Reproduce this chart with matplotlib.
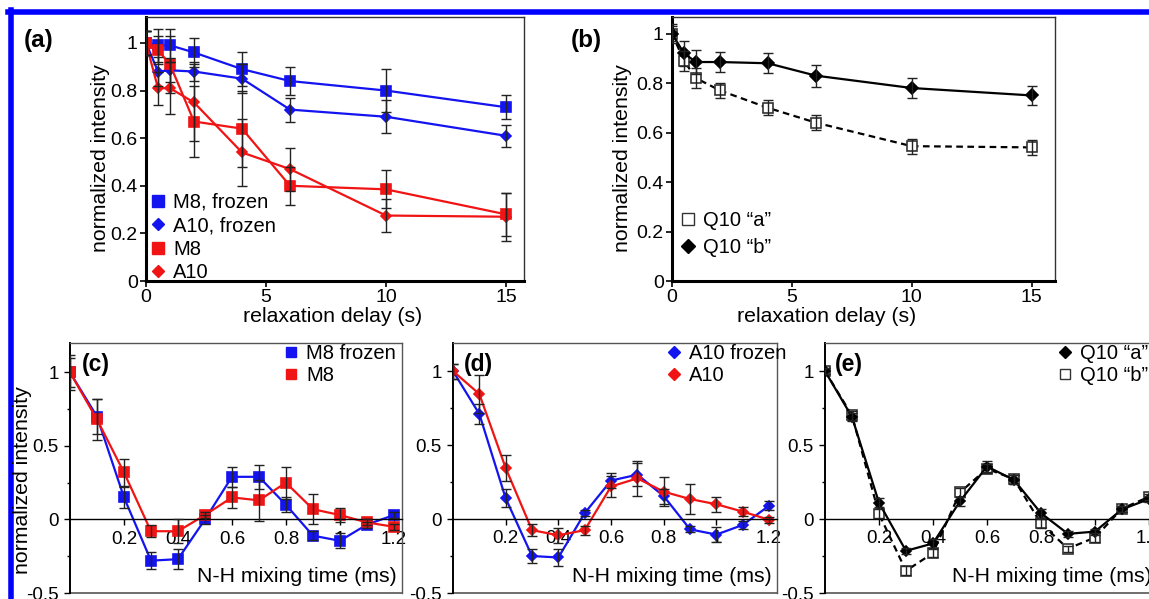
import matplotlib
matplotlib.use("Agg")
import matplotlib.pyplot as plt
from matplotlib.lines import Line2D

plt.rcParams["font.family"] = ["Liberation Sans", "DejaVu Sans"]
plt.rcParams["axes.unicode_minus"] = False

BLUE = "#1414f0"
RED = "#f01414"

# relaxation delays (s), panels (a) and (b)
delay = [0, 0.5, 1, 2, 4, 6, 10, 15]
m8_frozen = [1.00, 0.99, 0.99, 0.96, 0.89, 0.84, 0.80, 0.73]
m8_frozen_err = [0.05, 0.07, 0.07, 0.06, 0.07, 0.06, 0.09, 0.05]
a10_frozen = [1.00, 0.88, 0.885, 0.88, 0.85, 0.72, 0.69, 0.61]
a10_frozen_err = [0.05, 0.06, 0.05, 0.04, 0.06, 0.05, 0.07, 0.045]
m8 = [1.00, 0.97, 0.91, 0.67, 0.64, 0.40, 0.385, 0.28]
m8_err = [0.05, 0.06, 0.12, 0.15, 0.16, 0.08, 0.08, 0.09]
a10 = [1.00, 0.81, 0.81, 0.75, 0.54, 0.47, 0.275, 0.27]
a10_err = [0.05, 0.07, 0.11, 0.16, 0.14, 0.09, 0.07, 0.10]

q10a = [1.00, 0.89, 0.82, 0.77, 0.70, 0.64, 0.545, 0.54]
q10a_err = [0.03, 0.04, 0.04, 0.03, 0.03, 0.03, 0.03, 0.03]
q10b = [1.00, 0.92, 0.885, 0.885, 0.88, 0.83, 0.78, 0.75]
q10b_err = [0.04, 0.05, 0.05, 0.04, 0.04, 0.045, 0.04, 0.04]

# N-H mixing times (ms), panels (c)-(e)
mix = [0, 0.1, 0.2, 0.3, 0.4, 0.5, 0.6, 0.7, 0.8, 0.9, 1.0, 1.1, 1.2]
c_m8_frozen = [1.00, 0.70, 0.15, -0.28, -0.27, 0.00, 0.29, 0.29, 0.10, -0.11, -0.145, -0.035, 0.03]
c_m8_frozen_err = [0.10, 0.12, 0.07, 0.06, 0.07, 0.03, 0.07, 0.08, 0.05, 0.03, 0.05, 0.02, 0.02]
c_m8 = [1.00, 0.68, 0.32, -0.08, -0.08, 0.03, 0.15, 0.13, 0.25, 0.07, 0.03, -0.02, -0.05]
c_m8_err = [0.12, 0.14, 0.09, 0.04, 0.08, 0.02, 0.07, 0.14, 0.11, 0.10, 0.05, 0.02, 0.02]

d_a10_frozen = [1.00, 0.71, 0.14, -0.25, -0.26, 0.04, 0.26, 0.30, 0.155, -0.07, -0.105, -0.04, 0.09]
d_a10_frozen_err = [0.05, 0.07, 0.06, 0.05, 0.06, 0.02, 0.05, 0.08, 0.05, 0.02, 0.05, 0.03, 0.03]
d_a10 = [1.00, 0.845, 0.345, -0.075, -0.11, -0.075, 0.22, 0.275, 0.185, 0.135, 0.10, 0.05, -0.005]
d_a10_err = [0.05, 0.13, 0.09, 0.04, 0.05, 0.03, 0.07, 0.12, 0.10, 0.10, 0.05, 0.03, 0.02]

e_q10a = [1.00, 0.69, 0.11, -0.215, -0.165, 0.12, 0.355, 0.265, 0.04, -0.10, -0.085, 0.065, 0.135]
e_q10a_err = [0.02, 0.03, 0.03, 0.02, 0.03, 0.03, 0.04, 0.03, 0.03, 0.02, 0.02, 0.02, 0.02]
e_q10b = [1.00, 0.70, 0.035, -0.35, -0.23, 0.18, 0.34, 0.27, -0.03, -0.20, -0.125, 0.07, 0.15]
e_q10b_err = [0.02, 0.03, 0.03, 0.03, 0.03, 0.03, 0.03, 0.03, 0.03, 0.02, 0.03, 0.02, 0.02]

W, H = 1149, 599
fig = plt.figure(figsize=(W / 100, H / 100), dpi=100)


def px_axes(l, t, r, b):
    return fig.add_axes([l / W, 1 - b / H, (r - l) / W, (b - t) / H])


def series(ax, x, y, err, color, marker, ms, ls="-", mfc=None, mec=None):
    ax.plot(x, y, ls=ls, color=color, lw=1.6, marker=marker, ms=ms,
            mfc=mfc or color, mec=mec or color, mew=1.2, zorder=2)
    ax.errorbar(x, y, yerr=err, fmt="none", ecolor="#222222", elinewidth=1,
                capsize=3.5, capthick=1, zorder=3)


def top_style(ax):
    for s in ("left", "bottom"):
        ax.spines[s].set_linewidth(2.2)
        ax.spines[s].set_color("black")
    for s in ("top", "right"):
        ax.spines[s].set_linewidth(1)
        ax.spines[s].set_color("#333333")
    ax.tick_params(direction="out", length=4, width=1.2, labelsize=14, pad=2)


def bottom_style(ax, ylim):
    ax.set_ylim(*ylim)
    ax.set_xlim(0, 1.23)
    ax.set_axisbelow(True)
    ax.spines["bottom"].set_position(("data", 0))
    ax.spines["bottom"].set_linewidth(1)
    ax.spines["left"].set_linewidth(1.4)
    for s in ("top", "right"):
        ax.spines[s].set_color("#555555")
        ax.spines[s].set_linewidth(1)
    ax.plot([0, 1], [0, 0], transform=ax.transAxes, color="#555555", lw=1.2,
            clip_on=False)
    ax.set_xticks([0.2, 0.4, 0.6, 0.8, 1.0, 1.2])
    ax.set_xticklabels(["0.2", "0.4", "0.6", "0.8", "1", "1.2"])
    ax.set_yticks([-0.5, 0, 0.5, 1])
    ax.set_yticklabels(["-0.5", "0", "0.5", "1"])
    ax.set_yticks([-0.25, 0.25, 0.75], minor=True)
    ax.tick_params(direction="out", length=4, width=1, labelsize=13.5, pad=4)
    ax.tick_params(axis="y", which="minor", length=2.5, width=1)
    ax.text(0.985, 0.065, "N-H mixing time (ms)", transform=ax.transAxes,
            ha="right", va="center", fontsize=15.3)


def legend(ax, handles, x, y, fs=14.5, spacing=0.25):
    ax.legend(handles=handles, loc="upper left", bbox_to_anchor=(x / W, 1 - y / H),
              bbox_transform=fig.transFigure, frameon=False, fontsize=fs,
              handlelength=0.8, handletextpad=0.35, labelspacing=spacing,
              borderpad=0, borderaxespad=0)


def h(marker, color, ms, mfc=None):
    return dict(marker=marker, color=color, ls="none", ms=ms,
                mfc=mfc or color, mec=color if mfc is None else "#333333")


# (a)
ax = px_axes(146, 17, 524, 281)
series(ax, delay, m8_frozen, m8_frozen_err, BLUE, "s", 7.5)
series(ax, delay, a10_frozen, a10_frozen_err, BLUE, "D", 5.5)
series(ax, delay, m8, m8_err, RED, "s", 7.5)
series(ax, delay, a10, a10_err, RED, "D", 5.5)
ax.set_xlim(0, 15.75)
ax.set_ylim(0, 1.109)
ax.set_xticks([0, 5, 10, 15])
ax.set_yticks([0, 0.2, 0.4, 0.6, 0.8, 1])
ax.set_yticklabels(["0", "0.2", "0.4", "0.6", "0.8", "1"])
top_style(ax)
legend(ax, [Line2D([], [], label="M8, frozen", **h("s", BLUE, 9)),
            Line2D([], [], label="A10, frozen", **h("D", BLUE, 6)),
            Line2D([], [], label="M8", **h("s", RED, 9)),
            Line2D([], [], label="A10", **h("D", RED, 6))], 150, 193, spacing=0.22)
fig.text(333 / W, 1 - 317 / H, "relaxation delay (s)", ha="center", va="center",
         fontsize=15.3)
fig.text(100 / W, 1 - 158 / H, "normalized intensity", rotation=90, ha="center",
         va="center", fontsize=15.3)
fig.text(24 / W, 1 - 41 / H, "(a)", fontsize=17.5, fontweight="bold", va="center")

# (b)
ax = px_axes(672, 17, 1055, 281)
series(ax, delay, q10a, q10a_err, "black", "s", 7, ls=(0, (3, 2)), mfc="white",
       mec="#333333")
series(ax, delay, q10b, q10b_err, "black", "D", 6.5)
ax.set_xlim(0, 15.98)
ax.set_ylim(0, 1.067)
ax.set_xticks([0, 5, 10, 15])
ax.set_yticks([0, 0.2, 0.4, 0.6, 0.8, 1])
ax.set_yticklabels(["0", "0.2", "0.4", "0.6", "0.8", "1"])
top_style(ax)
legend(ax, [Line2D([], [], label="Q10 \u201ca\u201d", **h("s", "#333333", 9, mfc="white")),
            Line2D([], [], label="Q10 \u201cb\u201d", **h("D", "black", 7))], 680, 211,
       spacing=0.4)
fig.text(827 / W, 1 - 317 / H, "relaxation delay (s)", ha="center", va="center",
         fontsize=15.3)
fig.text(622 / W, 1 - 158 / H, "normalized intensity", rotation=90, ha="center",
         va="center", fontsize=15.3)
fig.text(571 / W, 1 - 41 / H, "(b)", fontsize=17.5, fontweight="bold", va="center")

# (c)
ax = px_axes(70, 343, 402, 593)
series(ax, mix, c_m8_frozen, c_m8_frozen_err, BLUE, "s", 7)
series(ax, mix, c_m8, c_m8_err, RED, "s", 7)
bottom_style(ax, (-0.5, 1.2))
legend(ax, [Line2D([], [], label="M8 frozen", **h("s", BLUE, 7.5)),
            Line2D([], [], label="M8", **h("s", RED, 7.5))], 283, 344, spacing=0.15)
ax.text(0.035, 0.96, "(c)", transform=ax.transAxes, fontsize=16.5,
        fontweight="bold", va="top")
fig.text(23 / W, 1 - 480 / H, "normalized intensity", rotation=90, ha="center",
         va="center", fontsize=15.3)

# (d)
ax = px_axes(453, 343, 777, 593)
series(ax, mix, d_a10_frozen, d_a10_frozen_err, BLUE, "D", 5.5)
series(ax, mix, d_a10, d_a10_err, RED, "D", 5.5)
bottom_style(ax, (-0.5, 1.19))
legend(ax, [Line2D([], [], label="A10 frozen", **h("D", BLUE, 6)),
            Line2D([], [], label="A10", **h("D", RED, 6))], 666, 344, spacing=0.15)
ax.text(0.035, 0.96, "(d)", transform=ax.transAxes, fontsize=16.5,
        fontweight="bold", va="top")

# (e)
ax = px_axes(825, 343, 1157, 593)
series(ax, mix, e_q10b, e_q10b_err, "black", "s", 7, ls=(0, (3, 2)), mfc="white",
       mec="#333333")
series(ax, mix, e_q10a, e_q10a_err, "black", "D", 5.5)
bottom_style(ax, (-0.5, 1.19))
legend(ax, [Line2D([], [], label="Q10 \u201ca\u201d", **h("D", "black", 6)),
            Line2D([], [], label="Q10 \u201cb\u201d", **h("s", "#333333", 7.5, mfc="white"))],
       1057, 344, spacing=0.15)
ax.text(0.03, 0.96, "(e)", transform=ax.transAxes, fontsize=16.5,
        fontweight="bold", va="top")

# blue frame of the original figure
fig.add_artist(Line2D([8 / W, 1], [1 - 12 / H, 1 - 12 / H], color="#0000ff", lw=4))
fig.add_artist(Line2D([10.5 / W, 10.5 / W], [0, 1 - 10 / H], color="#0000ff", lw=4))

fig.savefig("out.png", dpi=100)
